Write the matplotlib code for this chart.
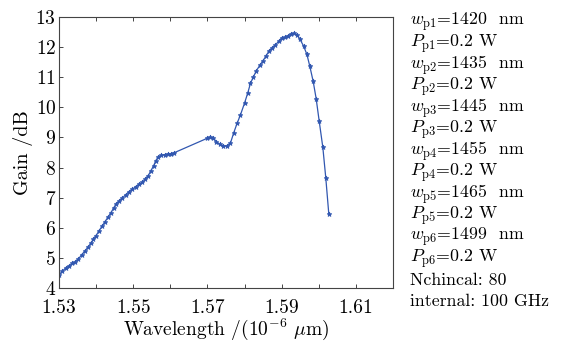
import numpy as np
import matplotlib
matplotlib.use("Agg")
import matplotlib.pyplot as plt
from matplotlib.ticker import MultipleLocator, FixedLocator

plt.rcParams['font.family'] = ['cmr10', 'DejaVu Serif']
plt.rcParams['mathtext.fontset'] = 'cm'
plt.rcParams['axes.formatter.use_mathtext'] = True

# wavelength (10^-6 um) and gain (dB)
wavelength = [1.5300, 1.5309, 1.5319, 1.5328, 1.5336, 1.5343, 1.5352, 1.5361, 1.5370,
              1.5378, 1.5386, 1.5393, 1.5400, 1.5408, 1.5416, 1.5424, 1.5432, 1.5440,
              1.5447, 1.5454, 1.5462, 1.5471, 1.5480, 1.5489, 1.5498, 1.5507, 1.5516,
              1.5525, 1.5532, 1.5540, 1.5548, 1.5555, 1.5561, 1.5568, 1.5576, 1.5585,
              1.5594, 1.5603, 1.5610,
              1.5699, 1.5708, 1.5715, 1.5724, 1.5733, 1.5742, 1.5753, 1.5762, 1.5771,
              1.5780, 1.5789, 1.5800, 1.5809, 1.5816, 1.5824, 1.5832, 1.5841, 1.5850,
              1.5858, 1.5866, 1.5874, 1.5882, 1.5892, 1.5900, 1.5908, 1.5917, 1.5926,
              1.5934, 1.5942, 1.5949, 1.5959, 1.5968, 1.5976, 1.5985, 1.5993, 1.6001,
              1.6011, 1.6019, 1.6027]
gain = [4.43, 4.56, 4.67, 4.74, 4.82, 4.86, 4.96, 5.10, 5.23,
        5.35, 5.49, 5.62, 5.74, 5.90, 6.05, 6.20, 6.35, 6.50,
        6.65, 6.79, 6.89, 6.99, 7.10, 7.20, 7.28, 7.37, 7.45,
        7.51, 7.61, 7.72, 7.90, 8.06, 8.23, 8.36, 8.41, 8.43,
        8.45, 8.46, 8.49,
        8.97, 9.01, 8.99, 8.86, 8.77, 8.72, 8.72, 8.81, 9.16,
        9.47, 9.75, 10.14, 10.49, 10.80, 11.01, 11.22, 11.39, 11.55,
        11.71, 11.87, 11.97, 12.06, 12.19, 12.30, 12.32, 12.38, 12.44,
        12.46, 12.40, 12.27, 12.04, 11.76, 11.36, 10.86, 10.29, 9.56,
        8.67, 7.65, 6.47]

xticks = [1.53, 1.55, 1.57, 1.59, 1.61]
yticks = [4, 5, 6, 7, 8, 9, 10, 11, 12, 13]

notes = [r'$w_{\rm p1}$=1420  nm', r'$P_{\rm p1}$=0.2 W',
         r'$w_{\rm p2}$=1435  nm', r'$P_{\rm p2}$=0.2 W',
         r'$w_{\rm p3}$=1445  nm', r'$P_{\rm p3}$=0.2 W',
         r'$w_{\rm p4}$=1455  nm', r'$P_{\rm p4}$=0.2 W',
         r'$w_{\rm p5}$=1465  nm', r'$P_{\rm p5}$=0.2 W',
         r'$w_{\rm p6}$=1499  nm', r'$P_{\rm p6}$=0.2 W',
         'Nchincal: 80', 'internal: 100 GHz']

fig = plt.figure(figsize=(5.66, 3.41), dpi=100)
ax = fig.add_axes([0.1042, 0.1554, 0.5901, 0.7947])

ax.plot(wavelength, gain, color='#3157b0', lw=0.9, marker='*', ms=3.5,
        markeredgewidth=0.6)

ax.set_xlim(1.53, 1.62)
ax.set_ylim(4, 13)
ax.xaxis.set_major_locator(FixedLocator(xticks))
ax.xaxis.set_minor_locator(MultipleLocator(0.01))
ax.set_xticklabels(['%.2f' % t for t in xticks])
ax.yaxis.set_major_locator(FixedLocator(yticks))
ax.tick_params(which='both', direction='in', top=True, right=False, length=3,
               width=0.7, labelsize=14, pad=2, color='#444444')
ax.tick_params(axis='x', pad=8)
for s in ax.spines.values():
    s.set_linewidth(0.8)
    s.set_color('#444444')

ax.set_xlabel(r'Wavelength /(10$^{-6}$ $\mu$m)', fontsize=14, labelpad=0)
ax.set_ylabel('Gain /dB', fontsize=14.5, labelpad=2)

y0 = 1 - 22 / 341
for i, t in enumerate(notes):
    fig.text(0.724, y0 - i * 21.5 / 341, t, fontsize=12.8, va='center', ha='left')

fig.savefig('out.png', dpi=100, facecolor='white')
